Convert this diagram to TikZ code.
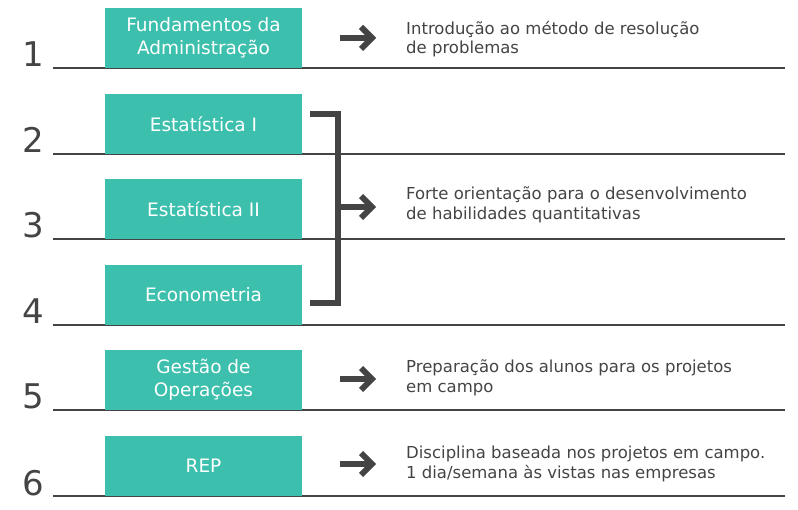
\documentclass[tikz,border=0pt]{standalone}
\usepackage{fontspec}
\setmainfont{DejaVu Sans}
\definecolor{teal1}{HTML}{3DBFAD}
\definecolor{grey1}{HTML}{444444}
\begin{document}
\begin{tikzpicture}[x=1pt, y=-1pt,
    course/.style = {fill=teal1, text=white, minimum width=197pt, minimum height=60pt, align=center, inner sep=0pt, font=\fontsize{18.5}{23}\selectfont},
    info/.style = {anchor=west, text=grey1, align=left, inner sep=0pt, font=\fontsize{16.5}{19.5}\selectfont},
    num/.style = {anchor=base, text=grey1, inner sep=0pt, font=\fontsize{34}{34}\selectfont},
    rowline/.style = {draw=grey1, line width=1.2pt},
    pics/goarrow/.style = {code={
        \draw[grey1, line width=6pt] (-18,0) -- (13,0);
        \draw[grey1, line width=6pt, miter limit=4] (3,-11) -- (14,0) -- (3,11);
    }}]
    \useasboundingbox (0,0) rectangle (798,510);

    % rows
    \foreach \y [count=\i] in {68,154,239,325,410,496} {
        \draw[rowline] (53,\y) -- (785,\y);
        \node[num] (n\i) at (33,\y-1) {\i};
    }

    \node[course] (1) at (203.5,38) {Fundamentos da\\Administração};
    \node[course] (2) at (203.5,124) {Estatística I};
    \node[course] (3) at (203.5,209) {Estatística II};
    \node[course] (4) at (203.5,295) {Econometria};
    \node[course] (5) at (203.5,380) {Gestão de\\Operações};
    \node[course] (6) at (203.5,466) {REP};

    \node[info] (t1) at (406,39) {Introdução ao método de resolução\\de problemas};
    \node[info] (t2) at (406,205) {Forte orientação para o desenvolvimento\\de habilidades quantitativas};
    \node[info] (t5) at (406,378) {Preparação dos alunos para os projetos\\em campo};
    \node[info] (t6) at (406,464) {Disciplina baseada nos projetos em campo.\\1 dia/semana às vistas nas empresas};

    % bracket
    \draw[grey1, line width=6pt] (310,114) -| (338,303) -- (310,303);

    % arrows
    \pic at (358,38) {goarrow};
    \pic at (358,207) {goarrow};
    \pic at (358,379) {goarrow};
    \pic at (358,464) {goarrow};
\end{tikzpicture}
\end{document}
